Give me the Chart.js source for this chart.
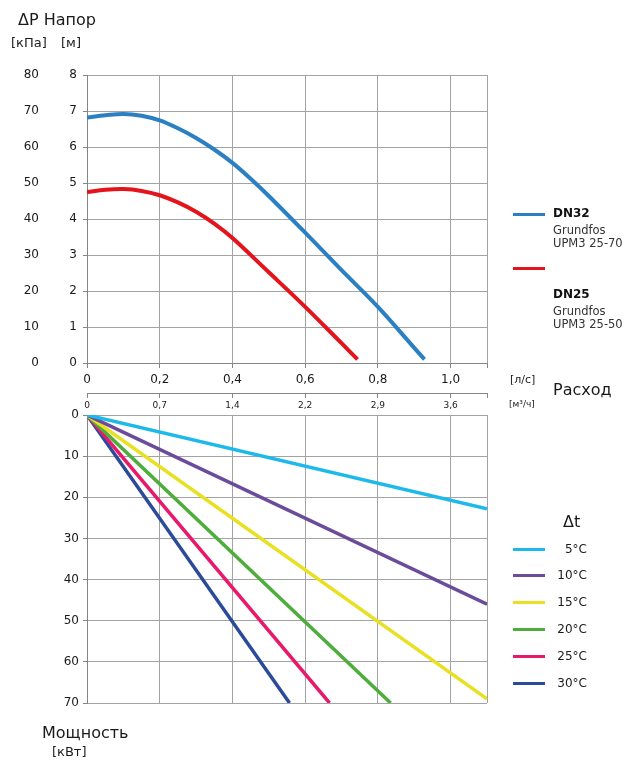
<!DOCTYPE html>
<html>
<head>
<meta charset="utf-8">
<script src="https://cdn.jsdelivr.net/npm/chart.js@4.4.0/dist/chart.umd.min.js"></script>
<style>
  html, body { margin: 0; padding: 0; background: #fff; }
  #wrap { position: relative; width: 644px; height: 761px; font-family: "DejaVu Sans", sans-serif; color: #1a1a1a; }
  #wrap canvas { position: absolute; left: 0; top: 0; }
  .t { position: absolute; white-space: nowrap; line-height: 1; }
  .sw { position: absolute; width: 32px; height: 3px; }
</style>
</head>
<body>
<div id="wrap">
  <canvas id="headChart" width="644" height="761"></canvas>
  <canvas id="powerChart" width="644" height="761"></canvas>

  <div class="t" style="left:18px; top:12px; font-size:16px;">ΔP Напор</div>
  <div class="t" style="left:11px; top:36px; font-size:13px;">[кПа]</div>
  <div class="t" style="left:61px; top:36px; font-size:13px;">[м]</div>
  <div class="t" style="left:510px; top:374px; font-size:11px;">[л/с]</div>
  <div class="t" style="left:553px; top:382px; font-size:16px;">Расход</div>
  <div class="t" style="left:509px; top:400px; font-size:9px;">[м³/ч]</div>
  <div class="t" style="left:42px; top:725px; font-size:16px;">Мощность</div>
  <div class="t" style="left:52px; top:745px; font-size:13px;">[кВт]</div>
</div>
<script>
// pump curves, flow in l/s, head in m
const flowDN32 = [0, 0.05, 0.1, 0.15, 0.2, 0.25, 0.3, 0.35, 0.4, 0.45, 0.5, 0.6, 0.7, 0.8, 0.9, 0.928];
const headDN32 = [6.82, 6.88, 6.92, 6.87, 6.74, 6.52, 6.25, 5.93, 5.56, 5.12, 4.64, 3.62, 2.58, 1.56, 0.42, 0.1];
const flowDN25 = [0, 0.05, 0.1, 0.15, 0.2, 0.25, 0.3, 0.35, 0.4, 0.5, 0.6, 0.7, 0.744];
const headDN25 = [4.75, 4.81, 4.83, 4.78, 4.66, 4.46, 4.2, 3.87, 3.47, 2.52, 1.56, 0.55, 0.1];

// tick labels
const flowTicks = [0, 0.2, 0.4, 0.6, 0.8, 1.0, 1.1];
const flowLabels = ['0', '0,2', '0,4', '0,6', '0,8', '1,0'];
const m3hLabels = ['0', '0,7', '1,4', '2,2', '2,9', '3,6'];
const headTicksM = [0, 1, 2, 3, 4, 5, 6, 7, 8];
const headTicksKPa = [0, 10, 20, 30, 40, 50, 60, 70, 80];
const powerTicks = [0, 10, 20, 30, 40, 50, 60, 70];

// power lines: end point of each line (start at 0,0)
const dtLabels = ['5°C', '10°C', '15°C', '20°C', '25°C', '30°C'];
const dtEndFlow = [1.1, 1.1, 1.1, 0.835, 0.667, 0.557];
const dtEndPower = [22.8, 46, 69, 70, 70, 70];
const dtColors = ['#1cb9ea', '#6a4c9b', '#e8e021', '#4dae3b', '#e8196a', '#2b4b99'];

const pumpNames = ['DN32', 'DN25'];
const pumpModels = ['UPM3 25-70', 'UPM3 25-50'];
const pumpColors = ['#2a80c3', '#e3141c'];

const gridColor = '#a3a3a3';
const axisColor = '#858585';
const tickFont = { family: 'DejaVu Sans', size: 12 };

function toPoints(xs, ys) {
    return xs.map((x, i) => ({ x: x, y: ys[i] }));
}
function setTicks(values) {
    return function(scale) { scale.ticks = values.map(v => ({ value: v })); };
}

// top chart: pump head
new Chart(document.getElementById('headChart'), {
    type: 'line',
    data: {
        datasets: [
            { label: 'DN32', data: toPoints(flowDN32, headDN32), yAxisID: 'm', borderColor: pumpColors[0] },
            { label: 'DN25', data: toPoints(flowDN25, headDN25), yAxisID: 'm', borderColor: pumpColors[1] }
        ].map(d => Object.assign(d, { borderWidth: 4, pointRadius: 0, tension: 0.35, fill: false }))
    },
    options: {
        responsive: false,
        animation: false,
        devicePixelRatio: 1,
        layout: { padding: { left: 0, top: 75, right: 157, bottom: 348 } },
        plugins: { legend: { display: false }, tooltip: { enabled: false } },
        scales: {
            x: {
                type: 'linear', position: 'bottom', min: 0, max: 1.1, weight: 0,
                afterBuildTicks: setTicks(flowTicks),
                afterFit: s => { s.height = 30; },
                grid: { color: gridColor, tickLength: 5, tickColor: axisColor },
                border: { color: axisColor },
                ticks: { font: tickFont, color: '#1a1a1a', padding: 5, maxRotation: 0, autoSkip: false,
                         callback: (v, i) => flowLabels[i] !== undefined ? flowLabels[i] : '' }
            },
            xm: {
                type: 'linear', position: 'bottom', min: 0, max: 1.1, weight: 1,
                afterBuildTicks: setTicks(flowTicks),
                afterFit: s => { s.height = 20; },
                grid: { drawOnChartArea: false, tickLength: 5, color: axisColor },
                border: { color: axisColor },
                ticks: { font: { family: 'DejaVu Sans', size: 9 }, color: '#1a1a1a', padding: 2, maxRotation: 0, autoSkip: false,
                         callback: (v, i) => m3hLabels[i] !== undefined ? m3hLabels[i] : '' }
            },
            m: {
                type: 'linear', position: 'left', min: 0, max: 8, weight: 0,
                afterBuildTicks: setTicks(headTicksM),
                afterFit: s => { s.width = 42; },
                grid: { color: gridColor, tickLength: 4, tickColor: axisColor },
                border: { color: axisColor },
                ticks: { font: tickFont, color: '#1a1a1a', padding: 6 }
            },
            kpa: {
                type: 'linear', position: 'left', min: 0, max: 80, weight: 1,
                afterBuildTicks: setTicks(headTicksKPa),
                afterFit: s => { s.width = 45; },
                grid: { display: false, drawTicks: false },
                border: { display: false },
                ticks: { font: tickFont, color: '#1a1a1a', padding: 6 }
            }
        }
    }
});

// bottom chart: heat power
new Chart(document.getElementById('powerChart'), {
    type: 'line',
    data: {
        datasets: dtLabels.map((lab, i) => ({
            label: lab,
            data: toPoints([0, dtEndFlow[i]], [0, dtEndPower[i]]),
            borderColor: dtColors[i],
            borderWidth: 3.5,
            pointRadius: 0,
            fill: false
        }))
    },
    options: {
        responsive: false,
        animation: false,
        devicePixelRatio: 1,
        layout: { padding: { left: 0, top: 415, right: 157, bottom: 58 } },
        plugins: { legend: { display: false }, tooltip: { enabled: false } },
        scales: {
            x: {
                type: 'linear', position: 'top', min: 0, max: 1.1,
                afterBuildTicks: setTicks(flowTicks),
                afterFit: s => { s.height = 0; },
                grid: { color: gridColor, drawTicks: false },
                border: { color: gridColor },
                ticks: { display: false }
            },
            y: {
                type: 'linear', position: 'left', min: 0, max: 70, reverse: true,
                afterBuildTicks: setTicks(powerTicks),
                afterFit: s => { s.width = 87; },
                grid: { color: gridColor, tickLength: 4, tickColor: axisColor },
                border: { color: axisColor },
                ticks: { font: tickFont, color: '#1a1a1a', padding: 4 }
            }
        }
    }
});

// legends (html)
const wrap = document.getElementById('wrap');
function addEl(cls, style, text) {
    const el = document.createElement('div');
    el.className = cls;
    el.setAttribute('style', style);
    if (text) el.textContent = text;
    wrap.appendChild(el);
}
const pumpLineY = [213, 267];
const pumpNameY = [214, 295];
pumpNames.forEach((name, i) => {
    const y = pumpNameY[i];
    addEl('sw', 'left:513px; top:' + pumpLineY[i] + 'px; background:' + pumpColors[i] + ';');
    addEl('t', 'left:553px; top:' + (y - 7) + 'px; font-size:12px; font-weight:bold; color:#111;', name);
    addEl('t', 'left:553px; top:' + (y + 11) + 'px; font-size:11.5px; color:#333;', 'Grundfos');
    addEl('t', 'left:553px; top:' + (y + 24) + 'px; font-size:11.5px; color:#333;', pumpModels[i]);
});

addEl('t', 'left:563px; top:514px; font-size:16px;', 'Δt');
dtLabels.forEach((lab, i) => {
    const y = 549 + i * 26.8;
    addEl('sw', 'left:513px; top:' + (y - 1.5) + 'px; background:' + dtColors[i] + ';');
    addEl('t', 'right:' + (644 - 587) + 'px; top:' + (y - 6.5) + 'px; font-size:12px;', lab);
});
</script>
</body>
</html>
